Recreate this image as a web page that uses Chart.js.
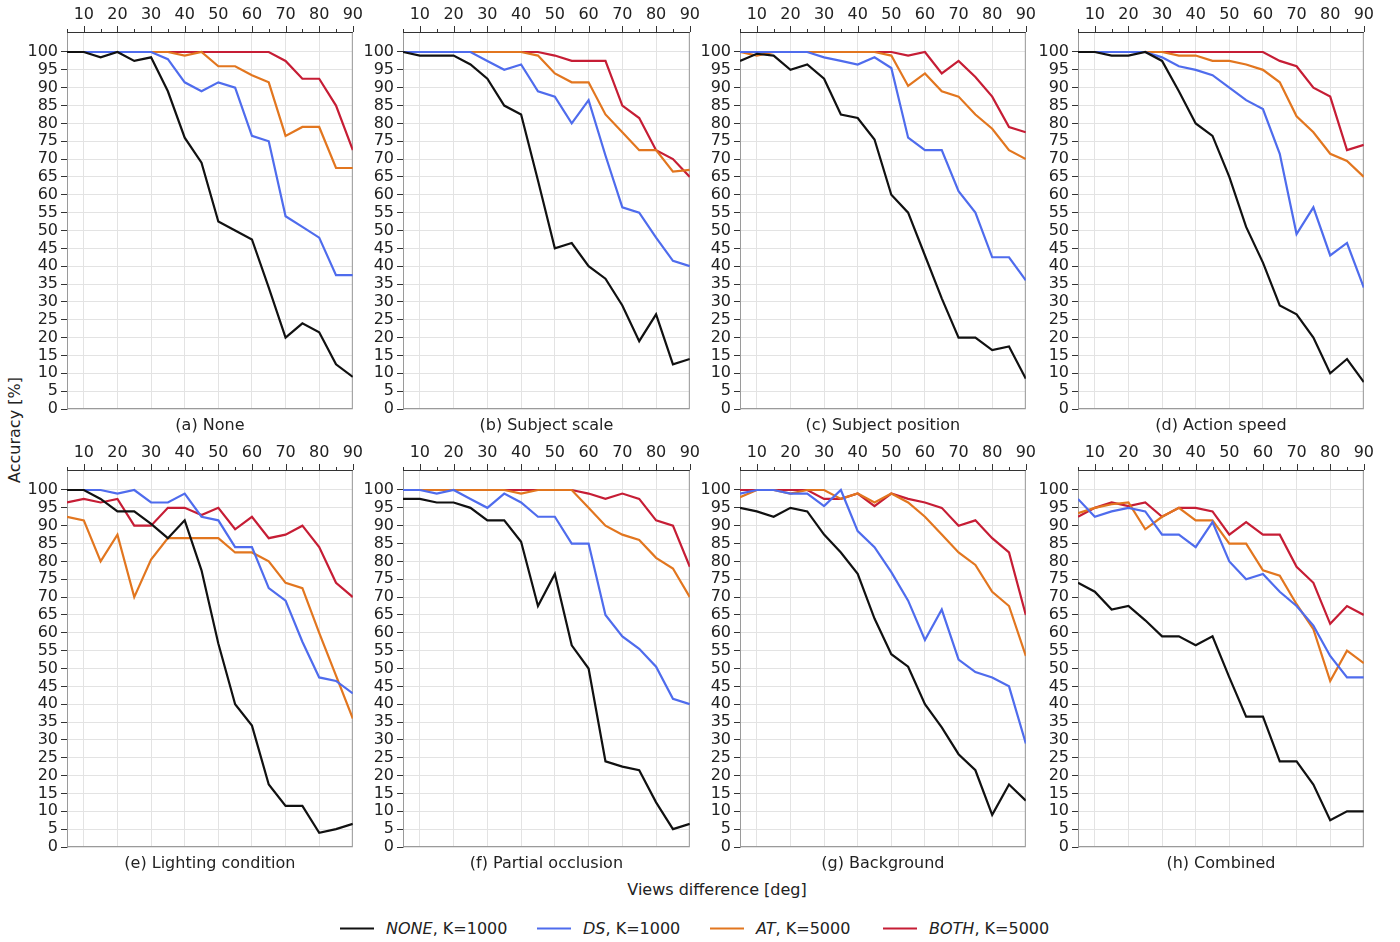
<!DOCTYPE html>
<html>
<head>
<meta charset="utf-8">
<script src="https://cdn.jsdelivr.net/npm/chart.js@4.4.1/dist/chart.umd.min.js"></script>
<style>
  body { margin: 0; background: #fff; width: 1400px; height: 942px; position: relative; overflow: hidden;
         font-family: "DejaVu Sans", sans-serif; color: #222; }
  canvas { position: absolute; }
  .txt { position: absolute; font-size: 16px; white-space: nowrap; }
  #ylab { left: 14px; top: 430px; transform: translate(-50%, -50%) rotate(-90deg); }
  #xlab { left: 717px; top: 889px; transform: translate(-50%, -50%); }
  .leg { position: absolute; top: 928px; transform: translateY(-50%); font-size: 16px; white-space: nowrap; display: flex; align-items: center; }
  .leg span.sw { display: inline-block; width: 34px; height: 2px; margin-right: 12px; }
</style>
</head>
<body>
<div class="txt" id="ylab">Accuracy [%]</div>
<div class="txt" id="xlab">Views difference [deg]</div>
<div id="legend"></div>
<script>
// x values (view difference, deg) and tick labels
const views = [5, 10, 15, 20, 25, 30, 35, 40, 45, 50, 55, 60, 65, 70, 75, 80, 85, 90];
const yTicks = [0, 5, 10, 15, 20, 25, 30, 35, 40, 45, 50, 55, 60, 65, 70, 75, 80, 85, 90, 95, 100];
const titles = ['(a) None', '(b) Subject scale', '(c) Subject position', '(d) Action speed',
                '(e) Lighting condition', '(f) Partial occlusion', '(g) Background', '(h) Combined'];
const seriesNames = ['NONE', 'DS', 'AT', 'BOTH'];
const seriesK = ['K=1000', 'K=1000', 'K=5000', 'K=5000'];

// (a) None
const none_a = [100, 100, 98.5, 100, 97.5, 98.5, 89, 76, 69, 52.5, 50, 47.5, 34, 20, 24, 21.5, 12.5, 9];
const ds_a   = [100, 100, 100, 100, 100, 100, 98, 91.5, 89, 91.5, 90, 76.5, 75, 54, 51, 48, 37.5, 37.5];
const at_a   = [100, 100, 100, 100, 100, 100, 100, 99, 100, 96, 96, 93.5, 91.5, 76.5, 79, 79, 67.5, 67.5];
const both_a = [100, 100, 100, 100, 100, 100, 100, 100, 100, 100, 100, 100, 100, 97.5, 92.5, 92.5, 85, 72.5];
// (b) Subject scale
const none_b = [100, 99, 99, 99, 96.5, 92.5, 85, 82.5, 64, 45, 46.5, 40, 36.5, 29, 19, 26.5, 12.5, 14];
const ds_b   = [100, 100, 100, 100, 100, 97.5, 95, 96.5, 89, 87.5, 80, 86.5, 71, 56.5, 55, 48, 41.5, 40];
const at_b   = [100, 100, 100, 100, 100, 100, 100, 100, 99, 94, 91.5, 91.5, 82.5, 77.5, 72.5, 72.5, 66.5, 67];
const both_b = [100, 100, 100, 100, 100, 100, 100, 100, 100, 99, 97.5, 97.5, 97.5, 85, 81.5, 72.5, 70, 65];
// (c) Subject position
const none_c = [97.5, 99.5, 99, 95, 96.5, 92.5, 82.5, 81.5, 75.5, 60, 55, 43, 31, 20, 20, 16.5, 17.5, 8.5];
const ds_c   = [100, 100, 100, 100, 100, 98.5, 97.5, 96.5, 98.5, 95.5, 76, 72.5, 72.5, 61, 55, 42.5, 42.5, 36];
const at_c   = [100, 99, 100, 100, 100, 100, 100, 100, 100, 99, 90.5, 94, 89, 87.5, 82.5, 78.5, 72.5, 70];
const both_c = [100, 100, 100, 100, 100, 100, 100, 100, 100, 100, 99, 100, 94, 97.5, 93, 87.5, 79, 77.5];
// (d) Action speed
const none_d = [100, 100, 99, 99, 100, 97.5, 89, 80, 76.5, 65, 51, 41, 29, 26.5, 20, 10, 14, 7.5];
const ds_d   = [100, 100, 100, 100, 100, 98.5, 96, 95, 93.5, 90, 86.5, 84, 71.5, 49, 56.5, 43, 46.5, 34];
const at_d   = [100, 100, 100, 100, 100, 100, 99, 99, 97.5, 97.5, 96.5, 95, 91.5, 82, 77.5, 71.5, 69.5, 65];
const both_d = [100, 100, 100, 100, 100, 100, 100, 100, 100, 100, 100, 100, 97.5, 96, 90, 87.5, 72.5, 74];
// (e) Lighting condition
const none_e = [100, 100, 97.5, 94, 94, 90.5, 86.5, 91.5, 77.5, 57, 40, 34, 17.5, 11.5, 11.5, 4, 5, 6.5];
const ds_e   = [100, 100, 100, 99, 100, 96.5, 96.5, 99, 92.5, 91.5, 84, 84, 72.5, 69, 57.5, 47.5, 46.5, 43];
const at_e   = [92.5, 91.5, 80, 87.5, 70, 80.5, 86.5, 86.5, 86.5, 86.5, 82.5, 82.5, 80, 74, 72.5, 60, 48, 36];
const both_e = [96.5, 97.5, 96.5, 97.5, 90, 90, 95, 95, 93, 95, 89, 92.5, 86.5, 87.5, 90, 84, 74, 70];
// (f) Partial occlusion
const none_f = [97.5, 97.5, 96.5, 96.5, 95, 91.5, 91.5, 85.5, 67.5, 76.5, 56.5, 50, 24, 22.5, 21.5, 12.5, 5, 6.5];
const ds_f   = [100, 100, 99, 100, 97.5, 95, 99, 96.5, 92.5, 92.5, 85, 85, 65, 59, 55.5, 50.5, 41.5, 40];
const at_f   = [100, 100, 100, 100, 100, 100, 100, 99, 100, 100, 100, 95, 90, 87.5, 86, 81, 78, 70];
const both_f = [100, 100, 100, 100, 100, 100, 100, 100, 100, 100, 100, 99, 97.5, 99, 97.5, 91.5, 90, 78.5];
// (g) Background
const none_g = [95, 94, 92.5, 95, 94, 87.5, 82.5, 76.5, 64, 54, 50.5, 40, 33.5, 26, 21.5, 9, 17.5, 13];
const ds_g   = [99, 100, 100, 99, 99, 95.5, 100, 88.5, 84, 77, 69, 58, 66.5, 52.5, 49, 47.5, 45, 29];
const at_g   = [98, 100, 100, 99, 100, 100, 97.5, 99, 96.5, 99, 96.5, 92.5, 87.5, 82.5, 79, 71.5, 67.5, 53.5];
const both_g = [100, 100, 100, 100, 100, 97.5, 97.5, 99, 95.5, 99, 97.5, 96.5, 95, 90, 91.5, 86.5, 82.5, 65];
// (h) Combined
const none_h = [74, 71.5, 66.5, 67.5, 63.5, 59, 59, 56.5, 59, 47.5, 36.5, 36.5, 24, 24, 17.5, 7.5, 10, 10];
const ds_h   = [97.5, 92.5, 94, 95, 94, 87.5, 87.5, 84, 91, 80, 75, 76.5, 71.5, 67.5, 62, 53.5, 47.5, 47.5];
const at_h   = [93.5, 95, 96, 96.5, 89, 92.5, 95, 91.5, 91.5, 85, 85, 77.5, 76, 68, 61, 46.5, 55, 51.5];
const both_h = [92.5, 95, 96.5, 95.5, 96.5, 92.5, 95, 95, 94, 87.5, 91, 87.5, 87.5, 78.5, 74, 62.5, 67.5, 65];

const panels = [
  [none_a, ds_a, at_a, both_a], [none_b, ds_b, at_b, both_b],
  [none_c, ds_c, at_c, both_c], [none_d, ds_d, at_d, both_d],
  [none_e, ds_e, at_e, both_e], [none_f, ds_f, at_f, both_f],
  [none_g, ds_g, at_g, both_g], [none_h, ds_h, at_h, both_h]
];

const colors = ['#111111', '#4f6ced', '#e2761f', '#c61d35'];

// plot-area placement
const colLeft = [67, 403, 740, 1078];
const colRight = [357, 694, 1030, 1368];
const rowTop = [32, 470];
const rowBottom = [409, 847];
const Y_AXIS_W = 67, X_AXIS_H = 32, RIGHT_PAD = 14, TITLE_H = 28;

// frame, top ruler ticks (major at 10s, minor at 5s) and panel caption
const framePlugin = {
  id: 'frame',
  beforeDatasetsDraw(chart) {
    const { ctx, chartArea: a, scales: { x } } = chart;
    ctx.save();
    ctx.lineWidth = 1;
    ctx.strokeStyle = '#9a9a9a';
    ctx.strokeRect(a.left + 0.5, a.top + 0.5, a.width - 1, a.height - 1);
    ctx.strokeStyle = '#333';
    ctx.beginPath();
    ctx.moveTo(a.left, a.top + 0.5);
    ctx.lineTo(a.right, a.top + 0.5);
    views.forEach(v => {
      const px = Math.round(x.getPixelForValue(v)) + 0.5;
      const len = v % 10 === 0 ? 6 : 3;
      ctx.moveTo(px, a.top);
      ctx.lineTo(px, a.top - len);
    });
    ctx.stroke();
    ctx.restore();
  },
  afterDraw(chart, args, opts) {
    const { ctx, chartArea: a } = chart;
    ctx.save();
    ctx.fillStyle = '#222';
    ctx.font = '16px "DejaVu Sans"';
    ctx.textAlign = 'center';
    ctx.textBaseline = 'middle';
    ctx.fillText(opts.text, (a.left + a.right) / 2, a.bottom + 17);
    ctx.restore();
  }
};

const tickFont = { family: 'DejaVu Sans', size: 16 };

panels.forEach((series, p) => {
  const col = p % 4, row = Math.floor(p / 4);
  const left = colLeft[col] - Y_AXIS_W;
  const top = rowTop[row] - X_AXIS_H;
  const width = colRight[col] - left + RIGHT_PAD;
  const height = rowBottom[row] - top + TITLE_H;

  const canvas = document.createElement('canvas');
  canvas.width = width;
  canvas.height = height;
  canvas.style.left = left + 'px';
  canvas.style.top = top + 'px';
  document.body.appendChild(canvas);

  new Chart(canvas.getContext('2d'), {
    type: 'line',
    data: {
      datasets: series.map((vals, s) => ({
        label: seriesNames[s] + ', ' + seriesK[s],
        data: views.map((v, i) => ({ x: v, y: vals[i] })),
        borderColor: colors[s],
        borderWidth: 2.2,
        pointRadius: 0,
        tension: 0
      }))
    },
    options: {
      responsive: false,
      animation: false,
      devicePixelRatio: 1,
      layout: { padding: { left: 0, top: 0, right: RIGHT_PAD, bottom: TITLE_H } },
      plugins: {
        legend: { display: false },
        tooltip: { enabled: false },
        frame: { text: titles[p] }
      },
      scales: {
        x: {
          type: 'linear',
          position: 'top',
          min: 5,
          max: 90,
          afterBuildTicks: axis => { axis.ticks = views.map(v => ({ value: v })); },
          afterFit: scale => { scale.height = X_AXIS_H; },
          ticks: {
            autoSkip: false,
            maxRotation: 0,
            padding: 8,
            color: '#222',
            font: tickFont,
            callback: v => (v % 10 === 0 ? v : '')
          },
          grid: {
            drawTicks: false,
            color: c => (c.tick && c.tick.value % 10 === 0 ? '#e3e3e3' : 'rgba(0,0,0,0)')
          },
          border: { display: false }
        },
        y: {
          min: 0,
          max: 105.6,
          afterBuildTicks: axis => { axis.ticks = yTicks.map(v => ({ value: v })); },
          afterFit: scale => { scale.width = Y_AXIS_W; },
          ticks: { autoSkip: false, padding: 3, color: '#222', font: tickFont },
          grid: { color: '#e3e3e3', tickColor: '#333', tickLength: 6 },
          border: { color: '#9a9a9a' }
        }
      }
    },
    plugins: [framePlugin]
  });
});

// legend
const legendPos = [340, 537, 710, 883];
const legend = document.getElementById('legend');
seriesNames.forEach((name, s) => {
  const item = document.createElement('div');
  item.className = 'leg';
  item.style.left = legendPos[s] + 'px';
  item.innerHTML = '<span class="sw" style="background:' + colors[s] + '"></span><i>' + name + '</i>, ' + seriesK[s];
  legend.appendChild(item);
});
</script>
</body>
</html>
